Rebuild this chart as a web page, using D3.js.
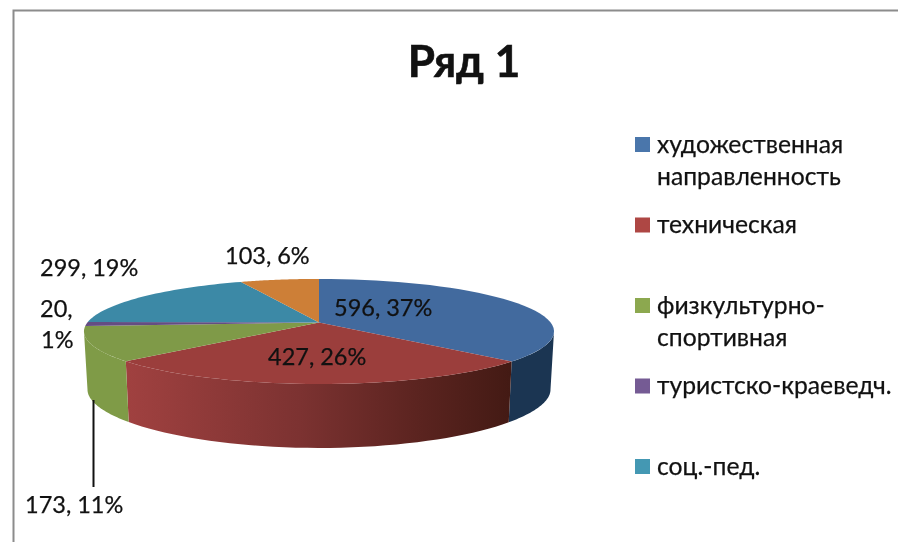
<!DOCTYPE html>
<html>
<head>
<meta charset="utf-8">
<script src="https://cdn.jsdelivr.net/npm/d3@7"></script>
<style>
    html, body { margin: 0; padding: 0; background: #fff; overflow: hidden; }
    svg { display: block; filter: blur(0.4px); }
    text { font-family: Lato, "Open Sans", sans-serif; fill: #111; stroke: #111; stroke-width: 0.25px; }
</style>
</head>
<body>
<div id="chart"></div>
<script>
// Pie values and legend names
const categories = [
    ["художественная", "направленность"],
    ["техническая"],
    ["физкультурно-", "спортивная"],
    ["туристско-краеведч."],
    ["соц.-пед."],
    [""]
];
const values = [596, 427, 173, 20, 299, 103];
const percents = [37, 26, 11, 1, 19, 6];
const topColors = ["#426a9e", "#9b3e3c", "#7f9a48", "#644d83", "#3c89a6", "#cd7f37"];
const keyColors = ["#4a76ab", "#ae4744", "#8ca84f", "#755b94", "#4498b3"];

const width = 898;
const height = 542;
const center = { x: 319, y: 322.5 };
const radius = 231.6;
const tilt = 51;
const persp = 0.17;

const svg = d3.select("#chart").append("svg")
    .attr("width", width)
    .attr("height", height);

// Chart frame, only top and left are inside the crop
svg.append("path")
    .attr("d", `M13.5,${height} V10.5 H${width}`)
    .attr("fill", "none")
    .attr("stroke", "#8c8c8c")
    .attr("stroke-width", 2);

svg.append("text")
    .attr("x", 464)
    .attr("y", 77)
    .attr("text-anchor", "middle")
    .style("font-size", "44px")
    .style("font-weight", "bold")
    .style("stroke-width", "0.6px")
    .text("Ряд 1");

// Tilted disc with a bit of perspective
function project(angle, r = 1) {
    const X = r * Math.sin(angle);
    const Y = -r * Math.cos(angle);
    const s = 1 / (1 - persp * Y);
    return [center.x + X * s * radius, center.y + Y * s * tilt];
}

// Lower rim of the disc, slightly narrower than the top
function projectBottom(angle) {
    const [x, y] = project(angle);
    const Y = -Math.cos(angle);
    return [center.x + (x - center.x) * 0.985, y + 58 + 6 * Y * Y];
}

const arcs = d3.pie().sort(null)(values);
const line = d3.line();
const samples = (a0, a1) => d3.range(0, 41).map(i => a0 + (a1 - a0) * i / 40);

// Gradients for the side wall
const defs = svg.append("defs");
const redGradient = defs.append("linearGradient")
    .attr("id", "red-side")
    .attr("gradientUnits", "userSpaceOnUse")
    .attr("x1", 127).attr("x2", 511).attr("y1", 0).attr("y2", 0);
[[0, "#a04140"], [0.45, "#7c3231"], [0.75, "#5c2420"], [1, "#431a14"]].forEach(([o, c]) => {
    redGradient.append("stop").attr("offset", o).attr("stop-color", c);
});
const sideFills = ["#1b3552", "url(#red-side)", "#7f9b47"];

// Only the part of the rim between the two horizontal extremes shows
const rimStart = Math.acos(persp);
const visible = [Math.PI - rimStart, Math.PI + rimStart];

arcs.slice(0, 3).forEach((d, i) => {
    const a0 = Math.max(d.startAngle, visible[0]);
    const a1 = Math.min(d.endAngle, visible[1]);
    const pts = samples(a0, a1);
    const outline = pts.map(a => project(a)).concat(pts.slice().reverse().map(projectBottom));
    svg.append("path")
        .attr("d", line(outline) + "Z")
        .attr("fill", sideFills[i]);
});

arcs.forEach((d, i) => {
    const outline = [[center.x, center.y]].concat(samples(d.startAngle, d.endAngle).map(a => project(a)));
    svg.append("path")
        .attr("d", line(outline) + "Z")
        .attr("fill", topColors[i]);
});

// Data labels, placed by hand the way the original chart has them
const fmt = i => `${values[i]}, ${percents[i]}%`;
const labelSpots = [
    { i: 0, x: 334, y: 316 },
    { i: 1, x: 268, y: 365 },
    { i: 2, x: 25, y: 513 },
    { i: 4, x: 40, y: 276 },
    { i: 5, x: 225, y: 264 }
];
svg.selectAll("text.label")
    .data(labelSpots)
    .enter()
    .append("text")
    .attr("class", "label")
    .attr("x", d => d.x)
    .attr("y", d => d.y)
    .style("font-size", "23.5px")
    .text(d => fmt(d.i));

// The 20, 1% label wraps on two lines
svg.append("text").attr("x", 40).attr("y", 317).style("font-size", "23.5px").text(`${values[3]},`);
svg.append("text").attr("x", 41).attr("y", 348).style("font-size", "23.5px").text(`${percents[3]}%`);

// Leader line for the green slice
svg.append("line")
    .attr("x1", 93.5).attr("x2", 93.5)
    .attr("y1", 400).attr("y2", 487)
    .attr("stroke", "#111")
    .attr("stroke-width", 2);

// Legend
const legendY = d3.scalePoint()
    .domain(d3.range(keyColors.length))
    .range([137, 459]);

const legend = svg.selectAll("g.legend")
    .data(keyColors)
    .enter()
    .append("g")
    .attr("class", "legend")
    .attr("transform", (d, i) => `translate(635,${legendY(i)})`);

legend.append("rect")
    .attr("width", 15)
    .attr("height", 15)
    .attr("fill", d => d);

legend.each(function(d, i) {
    d3.select(this).selectAll("text")
        .data(categories[i])
        .enter()
        .append("text")
        .attr("x", 22)
        .attr("y", (t, j) => 15.5 + j * 32)
        .style("font-size", "24.7px")
        .text(t => t);
});
</script>
</body>
</html>
